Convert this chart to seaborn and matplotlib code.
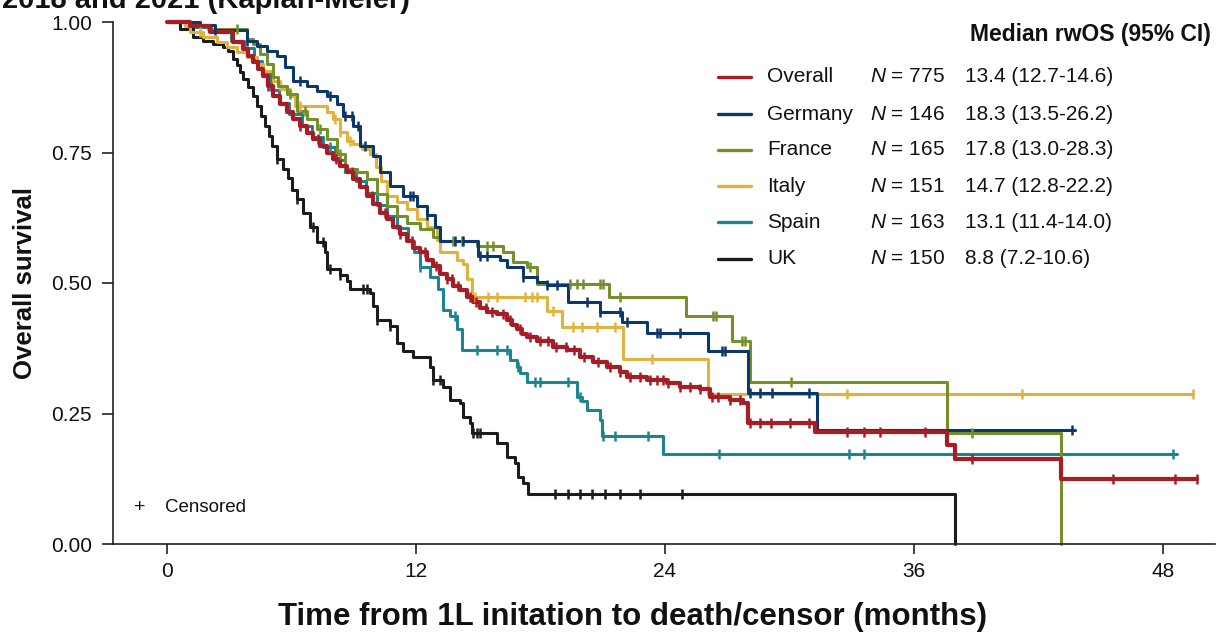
import numpy as np
import pandas as pd
import matplotlib
matplotlib.use("Agg")
import matplotlib.pyplot as plt
from matplotlib.lines import Line2D
import seaborn as sns

# ---------------------------------------------------------------------------
# Kaplan-Meier step estimates (months, survival probability) and censor times
# ---------------------------------------------------------------------------
groups = ["Overall", "Germany", "France", "Italy", "Spain", "UK"]
n_patients = [775, 146, 165, 151, 163, 150]
median_ci = ["13.4 (12.7-14.6)", "18.3 (13.5-26.2)", "17.8 (13.0-28.3)",
             "14.7 (12.8-22.2)", "13.1 (11.4-14.0)", "8.8 (7.2-10.6)"]
colors = ["#a81d25", "#0b386b", "#74902b", "#e2b23f", "#1c8590", "#1c1c1c"]

overall_t = [0, 1.11, 2.07, 3.18, 3.66, 3.90, 4.14, 4.39, 4.63, 4.87, 5.11, 5.45, 5.78,
             6.07, 6.41, 6.75, 7.04, 7.37, 7.71, 8.00, 8.34, 8.67, 8.96, 9.30, 9.64,
             9.93, 10.27, 10.60, 10.89, 11.23, 11.57, 11.86, 12.19, 12.53, 12.82,
             13.16, 13.49, 13.78, 14.12, 14.46, 14.75, 15.08, 15.42, 15.90, 16.39,
             16.63, 16.87, 17.11, 17.35, 17.83, 18.60, 19.28, 19.90, 20.53, 21.20,
             21.83, 22.17, 23.13, 24.10, 24.72, 25.69, 26.17, 27.13, 27.76, 28.00,
             31.23, 37.59, 37.98, 43.08, 49.64]
overall_s = [1.0, 0.992, 0.981, 0.962, 0.948, 0.935, 0.923, 0.910, 0.896, 0.877, 0.858,
             0.843, 0.827, 0.814, 0.800, 0.787, 0.775, 0.762, 0.750, 0.737, 0.724,
             0.712, 0.699, 0.683, 0.666, 0.651, 0.635, 0.622, 0.608, 0.593, 0.580,
             0.568, 0.559, 0.545, 0.532, 0.518, 0.507, 0.495, 0.486, 0.474, 0.463,
             0.453, 0.445, 0.440, 0.430, 0.420, 0.411, 0.403, 0.397, 0.388, 0.378,
             0.372, 0.359, 0.349, 0.340, 0.330, 0.319, 0.315, 0.309, 0.301, 0.296,
             0.282, 0.276, 0.271, 0.232, 0.215, 0.190, 0.163, 0.125, 0.125]
overall_cens = [4.87, 6.41, 7.28, 8.14, 8.92, 9.88, 10.51, 11.23, 11.81, 12.43, 12.96,
                13.49, 13.73, 14.02, 14.60, 14.89, 15.37, 15.66, 16.19, 16.53, 17.01,
                17.49, 17.98, 18.36, 18.75, 19.23, 19.61, 20.10, 20.77, 21.35, 21.83,
                22.31, 22.80, 23.28, 23.61, 23.90, 24.14, 24.72, 25.20, 25.69, 26.27,
                26.55, 27.13, 27.61, 28.10, 28.58, 29.11, 30.02, 30.94, 32.77, 33.59,
                34.36, 36.53, 38.80, 45.59, 48.58, 49.64]

germany_t = [0, 1.59, 2.31, 3.86, 4.34, 4.82, 5.30, 5.69, 6.07, 6.75, 7.23, 7.71, 8.19,
             8.48, 8.96, 9.30, 9.93, 10.27, 10.75, 11.37, 12.05, 12.53, 12.92, 13.16,
             15.00, 16.04, 16.38, 17.16, 17.83, 18.30, 19.33, 20.87, 21.93, 23.13,
             26.07, 28.00, 31.33, 43.76]
germany_s = [1.0, 0.994, 0.985, 0.964, 0.954, 0.944, 0.935, 0.914, 0.887, 0.877, 0.868,
             0.858, 0.843, 0.820, 0.800, 0.762, 0.743, 0.712, 0.685, 0.666, 0.647,
             0.631, 0.608, 0.580, 0.551, 0.545, 0.530, 0.512, 0.501, 0.497, 0.464,
             0.445, 0.426, 0.405, 0.370, 0.290, 0.219, 0.219]
germany_cens = [2.31, 3.86, 6.41, 7.86, 8.58, 8.92, 9.20, 9.54, 11.71, 11.86, 12.53,
                13.88, 14.27, 15.08, 15.42, 17.16, 18.31, 18.80, 20.24, 20.87, 21.83,
                22.17, 23.61, 23.76, 24.72, 26.75, 26.89, 28.10, 28.58, 29.16, 30.94,
                43.61]

france_t = [0, 1.20, 2.00, 3.86, 4.14, 4.48, 4.82, 5.11, 5.35, 5.78, 6.27, 6.75, 7.23,
            7.71, 8.19, 8.58, 9.16, 9.64, 10.12, 10.60, 11.08, 11.57, 12.19, 12.82,
            13.16, 14.94, 16.19, 16.67, 17.35, 17.83, 21.30, 25.01, 27.23, 28.10,
            37.59, 43.08, 43.08]
france_s = [1.0, 0.994, 0.987, 0.967, 0.958, 0.939, 0.919, 0.894, 0.877, 0.862, 0.829,
            0.814, 0.795, 0.775, 0.747, 0.718, 0.712, 0.699, 0.670, 0.647, 0.628, 0.614,
            0.603, 0.589, 0.580, 0.570, 0.559, 0.541, 0.530, 0.499, 0.474, 0.436,
            0.388, 0.311, 0.213, 0.0, 0.0]
france_cens = [3.37, 5.93, 6.65, 7.37, 8.34, 13.78, 14.22, 15.42, 15.71, 17.49, 19.42,
               19.76, 20.05, 20.87, 21.01, 21.83, 26.31, 26.46, 27.71, 27.86, 30.07,
               38.80]

italy_t = [0, 0.87, 1.11, 1.73, 2.41, 2.89, 3.37, 3.86, 4.34, 4.63, 5.11, 5.45, 5.93,
           6.17, 7.71, 8.00, 8.34, 8.67, 8.96, 9.40, 9.78, 10.07, 10.31, 10.60, 11.08,
           11.57, 12.05, 12.53, 13.01, 13.16, 13.98, 14.27, 14.46, 14.70, 18.31, 19.04,
           21.98, 26.07, 49.45]
italy_s = [1.0, 0.992, 0.981, 0.971, 0.962, 0.952, 0.942, 0.933, 0.919, 0.906, 0.887,
           0.871, 0.858, 0.839, 0.827, 0.814, 0.789, 0.772, 0.766, 0.756, 0.747, 0.722,
           0.695, 0.666, 0.655, 0.641, 0.622, 0.608, 0.583, 0.560, 0.545, 0.537, 0.507,
           0.474, 0.447, 0.415, 0.355, 0.288, 0.288]
italy_cens = [1.59, 6.41, 8.10, 8.34, 8.82, 14.84, 15.47, 15.90, 17.25, 17.59, 17.83,
              18.60, 19.57, 20.00, 20.72, 21.59, 23.37, 32.77, 41.20, 49.45]

spain_t = [0, 1.20, 2.10, 3.10, 3.70, 4.20, 4.60, 5.00, 5.40, 5.90, 6.50, 7.00, 7.50,
           8.10, 8.60, 9.10, 9.60, 10.10, 10.60, 11.10, 11.60, 11.90, 12.19, 12.67,
           13.06, 13.30, 13.64, 13.98, 14.22, 16.53, 16.87, 17.01, 17.35, 19.76, 20.00,
           20.24, 20.87, 20.96, 23.90, 48.67]
spain_s = [1.0, 0.990, 0.980, 0.963, 0.950, 0.925, 0.900, 0.870, 0.845, 0.823, 0.800,
           0.780, 0.760, 0.735, 0.712, 0.695, 0.672, 0.650, 0.628, 0.605, 0.580, 0.560,
           0.530, 0.511, 0.488, 0.449, 0.436, 0.411, 0.372, 0.353, 0.340, 0.328, 0.311,
           0.282, 0.273, 0.257, 0.238, 0.207, 0.173, 0.173]
spain_cens = [7.86, 12.19, 13.88, 14.94, 15.90, 16.39, 16.92, 17.73, 17.98, 19.33,
              19.90, 21.01, 21.59, 23.18, 26.60, 32.87, 33.59, 48.48]

uk_t = [0, 0.63, 1.25, 1.73, 2.22, 2.70, 2.94, 3.18, 3.37, 3.52, 3.66, 3.90, 4.14, 4.34,
        4.53, 4.72, 4.92, 5.06, 5.30, 5.59, 5.83, 6.02, 6.27, 6.55, 6.89, 7.23, 7.61,
        7.71, 8.34, 8.67, 8.80, 9.78, 9.93, 10.12, 10.75, 11.08, 11.37, 11.86, 12.67,
        12.82, 13.30, 13.64, 14.12, 14.27, 14.60, 14.70, 15.90, 16.39, 16.77, 16.92,
        17.16, 17.40, 37.98, 37.98]
uk_s = [1.0, 0.987, 0.971, 0.964, 0.958, 0.952, 0.944, 0.929, 0.917, 0.904, 0.891,
        0.875, 0.858, 0.839, 0.820, 0.800, 0.781, 0.762, 0.737, 0.718, 0.702, 0.679,
        0.660, 0.635, 0.608, 0.578, 0.559, 0.526, 0.516, 0.503, 0.488, 0.480, 0.455,
        0.430, 0.417, 0.386, 0.369, 0.359, 0.340, 0.315, 0.301, 0.276, 0.271, 0.244,
        0.232, 0.213, 0.194, 0.167, 0.155, 0.129, 0.117, 0.096, 0.0, 0.0]
uk_cens = [5.30, 6.27, 7.04, 7.52, 7.86, 8.34, 9.45, 9.64, 10.12, 10.75, 12.82, 13.16,
           14.75, 14.94, 15.08, 18.70, 19.33, 19.90, 20.48, 21.11, 21.83, 22.80, 24.82]

curves = {
    "Overall": (overall_t, overall_s, overall_cens),
    "Germany": (germany_t, germany_s, germany_cens),
    "France": (france_t, france_s, france_cens),
    "Italy": (italy_t, italy_s, italy_cens),
    "Spain": (spain_t, spain_s, spain_cens),
    "UK": (uk_t, uk_s, uk_cens),
}
palette = dict(zip(groups, colors))

# ---------------------------------------------------------------------------
# Styling
# ---------------------------------------------------------------------------
sns.set_style("ticks")
plt.rcParams["font.family"] = ["Liberation Sans", "DejaVu Sans"]
plt.rcParams["mathtext.fontset"] = "custom"
plt.rcParams["mathtext.it"] = "Liberation Sans:italic"
plt.rcParams["mathtext.rm"] = "Liberation Sans"

W, H = 1217, 632
fig = plt.figure(figsize=(W / 100, H / 100), dpi=100)


def fx(px):
    return px / W


def fy(py):
    return 1 - py / H


ax = fig.add_axes([fx(113), fy(544), fx(1215) - fx(113), fy(22) - fy(544)])

# draw the country curves first, pooled cohort on top
draw_order = ["Spain", "UK", "Italy", "France", "Germany", "Overall"]
for g in draw_order:
    t, s, cens = curves[g]
    df = pd.DataFrame({"time": t, "survival": s})
    lw = 3.0 if g == "Overall" else 2.2
    sns.lineplot(data=df, x="time", y="survival", color=palette[g], lw=lw,
                 drawstyle="steps-post", estimator=None, sort=False, ax=ax,
                 legend=False, clip_on=False)
    # survival value at each censoring time
    idx = np.searchsorted(np.asarray(t), np.asarray(cens), side="right") - 1
    cdf = pd.DataFrame({"time": cens, "survival": np.asarray(s)[idx]})
    sns.scatterplot(data=cdf, x="time", y="survival", marker="|", s=60,
                    linewidth=1.8, color=palette[g], ax=ax, legend=False,
                    clip_on=False, zorder=3)

ax.set_xlim(-2.6, 50.5)
ax.set_ylim(0, 1.0)
ax.set_xticks([0, 12, 24, 36, 48])
ax.set_yticks([0, 0.25, 0.5, 0.75, 1.0])
ax.set_yticklabels(["0.00", "0.25", "0.50", "0.75", "1.00"])
ax.tick_params(axis="both", labelsize=15, width=1.2, color="#222222",
               labelcolor="#111111")
ax.tick_params(axis="y", length=8, pad=7)
ax.tick_params(axis="x", length=7, pad=6)
for side in ["left", "bottom"]:
    ax.spines[side].set_linewidth(1.2)
    ax.spines[side].set_color("#222222")
sns.despine(ax=ax)

ax.set_xlabel("Time from 1L initation to death/censor (months)", fontsize=22.5,
              fontweight="bold", color="#111111")
ax.xaxis.set_label_coords((632 - 113) / (1215 - 113), -(617 - 544) / 522)
ax.xaxis.label.set_va("center")
ax.set_ylabel("Overall survival", fontsize=18.5, fontweight="bold",
              color="#111111")
ax.yaxis.set_label_coords(-(113 - 25) / (1215 - 113), (544 - 283) / 522)
ax.yaxis.label.set_va("center")

# title line (continuation of a heading above the plot)
fig.text(fx(2), fy(8), "2018 and 2021 (Kaplan-Meier)", fontsize=21,
         fontweight="bold", va="baseline", ha="left", color="#111111")

# tabulated legend: line, group, N, median with 95% CI
fig.text(fx(970), fy(35), "Median rwOS (95% CI)", fontsize=16.5,
         fontweight="bold", va="center", ha="left", color="#111111")
row_y = [77, 114, 150, 186, 222, 259]
for g, n, med, c, y in zip(groups, n_patients, median_ci, colors, row_y):
    fig.add_artist(Line2D([fx(718), fx(751)], [fy(y), fy(y)], color=c, lw=2.4,
                          transform=fig.transFigure))
    fig.text(fx(767), fy(y), g, fontsize=15, va="center", ha="left",
             color="#111111")
    fig.text(fx(870), fy(y), f"$N$ = {n}", fontsize=15, va="center",
             ha="left", color="#111111")
    fig.text(fx(965), fy(y), med, fontsize=15, va="center", ha="left",
             color="#111111")

# censoring key
fig.text(fx(140), fy(508), "+", fontsize=14, va="center", ha="center",
         color="#111111")
fig.text(fx(165), fy(508), "Censored", fontsize=13.5, va="center", ha="left",
         color="#111111")

fig.savefig("out.png", dpi=100)
